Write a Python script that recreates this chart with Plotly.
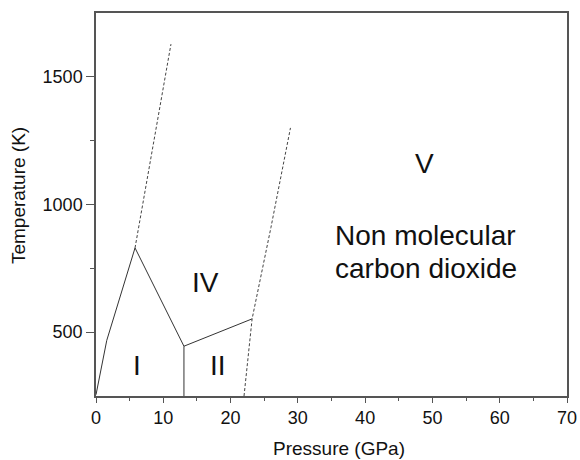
import plotly.graph_objects as go

# Melting curve (solid)
melt_P = [0.0, 1.6, 5.8]
melt_T = [255, 468, 830]
# Phase I / IV boundary (solid)
b_I_IV_P = [5.8, 13.07]
b_I_IV_T = [830, 445]
# Phase I / II boundary (solid vertical)
b_I_II_P = [13.07, 13.07]
b_I_II_T = [445, 250]
# Phase II / IV boundary (solid)
b_II_IV_P = [13.07, 23.2]
b_II_IV_T = [445, 552]
# Dashed extension above melting maximum
d1_P = [5.8, 11.14]
d1_T = [830, 1628]
# Dashed boundary towards non-molecular phase V
d2_P = [22.0, 23.2, 26.0, 28.9]
d2_T = [250, 552, 910, 1300]

# Labels
lab_text = ["I", "II", "IV", "V", "Non molecular", "carbon dioxide"]
lab_P = [6.1, 18.1, 16.2, 48.8, 49.0, 49.0]
lab_T = [370, 370, 694, 1159, 879, 748]

x_title = "Pressure (GPa)"
y_title = "Temperature (K)"

fig = go.Figure()
solid = dict(color="#333333", width=1)
dashed = dict(color="#444444", width=1, dash="3px,2px")
for xs, ys in [(melt_P, melt_T), (b_I_IV_P, b_I_IV_T), (b_I_II_P, b_I_II_T), (b_II_IV_P, b_II_IV_T)]:
    fig.add_trace(go.Scatter(x=xs, y=ys, mode="lines", line=solid, showlegend=False, hoverinfo="skip"))
for xs, ys in [(d1_P, d1_T), (d2_P, d2_T)]:
    fig.add_trace(go.Scatter(x=xs, y=ys, mode="lines", line=dashed, showlegend=False, hoverinfo="skip"))

for t, x, y in zip(lab_text, lab_P, lab_T):
    fig.add_annotation(x=x, y=y, text=t, showarrow=False, xanchor="center", yanchor="middle",
                       font=dict(size=28, color="#111111", family="Liberation Sans, Arial, sans-serif"))

# Axis titles as paper annotations for exact placement
fig.add_annotation(xref="paper", yref="paper", x=0.516, y=-0.138, text=x_title, showarrow=False,
                   xanchor="center", yanchor="middle", font=dict(size=19, color="#111111"))
fig.add_annotation(xref="paper", yref="paper", x=-0.1656, y=0.522, text=y_title, showarrow=False,
                   textangle=-90, xanchor="center", yanchor="middle", font=dict(size=19, color="#111111"))

axis_common = dict(showgrid=False, zeroline=False, showline=True, linecolor="#555555", linewidth=1.5,
                   mirror=True, ticks="outside", tickcolor="#555555", tickwidth=1.2, automargin=False,
                   tickfont=dict(size=18, color="#111111"))

fig.update_xaxes(range=[0, 70], tick0=0, dtick=10, ticklen=5,
                 minor=dict(dtick=5, ticklen=3, ticks="outside", tickcolor="#555555"),
                 **axis_common)
fig.update_yaxes(range=[250, 1750], tickvals=[500, 1000, 1500], ticklen=8,
                 minor=dict(tickvals=[750, 1250], ticklen=4, ticks="outside", tickcolor="#555555"),
                 **axis_common)

fig.update_layout(width=580, height=460, margin=dict(l=96, r=13, t=13, b=64),
                  plot_bgcolor="white", paper_bgcolor="white",
                  font=dict(family="Liberation Sans, Arial, sans-serif", color="#111111"))

fig.write_html("out.html")
